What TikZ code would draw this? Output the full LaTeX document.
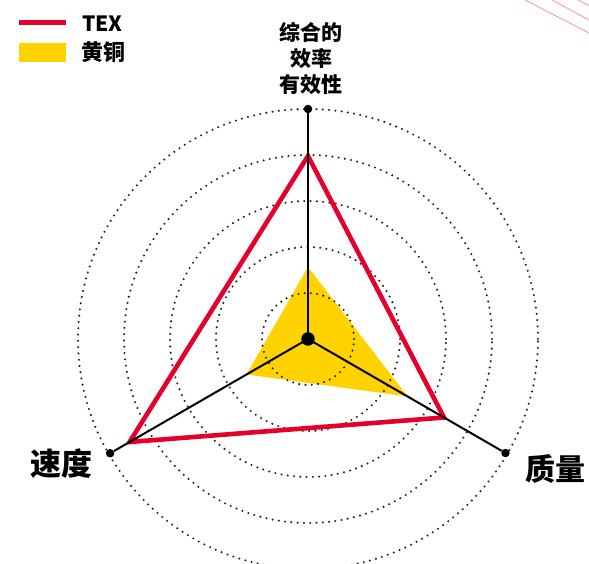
\documentclass[tikz,border=0pt]{standalone}
\usepackage{fontspec}
\setmainfont{Noto Sans CJK SC}
\definecolor{texred}{HTML}{E4002B}
\definecolor{brass}{HTML}{FFD200}
\definecolor{dotgray}{HTML}{222222}
\definecolor{pinkline}{HTML}{F5A3B0}
\begin{document}
\begin{tikzpicture}[x=1pt,y=1pt,
  ring/.style={draw=dotgray, line width=2.3pt, dash pattern=on 0pt off 6.3pt, line cap=round},
  axisline/.style={draw=black, line width=2pt},
  texline/.style={draw=texred, line width=4.6pt, line join=miter},
  enddot/.style={circle, fill=black, inner sep=0pt, minimum size=8.5pt},
  centerdot/.style={circle, fill=black, inner sep=0pt, minimum size=13.5pt},
  biglab/.style={font=\bfseries\fontsize{31}{36}\selectfont, inner sep=0pt},
  toplab/.style={font=\bfseries\fontsize{21}{26}\selectfont, inner sep=0pt, align=center},
  leglab/.style={font=\bfseries\fontsize{21}{26}\selectfont, inner sep=0pt},
  deco/.style={draw=pinkline, line width=1pt}]
\useasboundingbox (0,0) rectangle (589,564);
% decorative lines, top right
\coordinate (p1a) at (525,564); \coordinate (p1b) at (589,531);
\coordinate (p2a) at (552,564); \coordinate (p2b) at (589,544);
\coordinate (p3a) at (578,564); \coordinate (p3b) at (589,558.5);
\draw[deco] (p1a) -- (p1b);
\draw[deco] (p2a) -- (p2b);
\draw[deco] (p3a) -- (p3b);
% legend
\coordinate (lr1) at (19,541.3); \coordinate (lr2) at (66,541.3);
\draw[draw=texred, line width=4.6pt] (lr1) -- (lr2);
\coordinate (ly1) at (19,502.3); \coordinate (ly2) at (66,521.3);
\fill[brass] (ly1) rectangle (ly2);
\node[leglab, anchor=base west] (legtex) at (82,532.3) {TEX};
\node[leglab, anchor=west, font=\bfseries\fontsize{22}{26}\selectfont] (legbrass) at (81,512.3) {黄铜};
% radar
\begin{scope}[shift={(308,225)}]
\coordinate (O) at (0,0);
\coordinate (y1) at (90:72);
\coordinate (y2) at (210:71);
\coordinate (y3) at (-30:115);
\fill[brass] (y1) -- (y2) -- (y3) -- cycle;
\foreach \r in {46,92,138,184,230} \draw[ring] (O) circle (\r);
\coordinate (t1) at (90:183);
\coordinate (t2) at (210:206);
\coordinate (t3) at (-30:157);
\draw[texline] (t1) -- (t2) -- (t3) -- cycle;
\node[enddot] (atop) at (90:230) {};
\node[enddot] (aleft) at (210:228.5) {};
\node[enddot] (aright) at (-30:228) {};
\draw[axisline] (O) -- (atop);
\draw[axisline] (O) -- (aleft);
\draw[axisline] (O) -- (aright);
\node[centerdot] (C) at (O) {};
\end{scope}
% labels
\node[toplab] (ltop) at (311,505.5) {综合的\\效率\\有效性};
\node[biglab] (lleft) at (61,100.5) {速度};
\node[biglab, font=\bfseries\fontsize{30}{36}\selectfont] (lright) at (555,95) {质量};
\end{tikzpicture}
\end{document}
